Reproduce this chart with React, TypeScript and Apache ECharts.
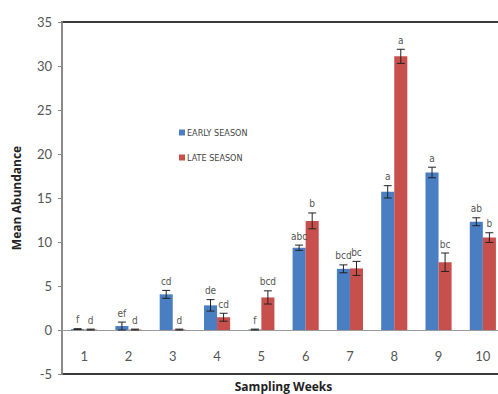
import React, { useEffect, useRef } from "react";
import * as echarts from "echarts";

const weeks = ["1", "2", "3", "4", "5", "6", "7", "8", "9", "10"];
const earlySeason = [0.1, 0.45, 4.05, 2.8, 0.05, 9.35, 6.95, 15.7, 17.9, 12.3];
const earlyErr = [0.05, 0.45, 0.45, 0.65, 0.05, 0.3, 0.45, 0.7, 0.6, 0.45];
const lateSeason = [0.05, 0.05, 0.05, 1.45, 3.7, 12.4, 7.0, 31.1, 7.7, 10.5];
const lateErr = [0.05, 0.05, 0.05, 0.45, 0.75, 0.9, 0.8, 0.8, 1.05, 0.55];
const earlyLetters = ["f", "ef", "cd", "de", "f", "abc", "bcd", "a", "a", "ab"];
const lateLetters = ["d", "d", "d", "cd", "bcd", "b", "bc", "a", "bc", "b"];

const BLUE = "#4A7EC2";
const RED = "#C8504C";
const GAP = 0.41;
const NARROW = "'Liberation Sans Narrow', 'DejaVu Sans Condensed', 'Liberation Sans', sans-serif";

function errSeries(vals: number[], errs: number[], letters: string[], side: number) {
  return {
    type: "custom",
    z: 5,
    silent: true,
    encode: { x: 0, y: 1 },
    data: vals.map((v, i) => [i, v, errs[i]]),
    renderItem: (params: any, api: any) => {
      const idx = api.value(0);
      const v = api.value(1);
      const e = api.value(2);
      const band = api.size([1, 0])[0];
      const bw = (band * (1 - GAP)) / 2;
      const p = api.coord([idx, v]);
      const x = p[0] + (side * bw) / 2;
      const top = api.coord([idx, v + e])[1];
      const bot = api.coord([idx, Math.max(v - e, 0)])[1];
      const cap = 4;
      const st = { stroke: "#222", lineWidth: 1 };
      return {
        type: "group",
        children: [
          { type: "line", shape: { x1: x, y1: top, x2: x, y2: bot }, style: st },
          { type: "line", shape: { x1: x - cap, y1: top, x2: x + cap, y2: top }, style: st },
          { type: "line", shape: { x1: x - cap, y1: bot, x2: x + cap, y2: bot }, style: st },
          {
            type: "text",
            style: {
              text: letters[params.dataIndex],
              x: x,
              y: top - 4,
              align: "center",
              verticalAlign: "bottom",
              fill: "#555",
              font: "10px " + NARROW,
            },
          },
        ],
      };
    },
  };
}

export default function App() {
  const ref = useRef<HTMLDivElement>(null);
  useEffect(() => {
    if (!ref.current) return;
    const chart = echarts.init(ref.current, null, { renderer: "svg" });
    chart.setOption({
      animation: false,
      backgroundColor: "#fff",
      grid: {
        left: 62,
        top: 22,
        bottom: 20,
        right: 1,
        outerBoundsMode: "none",
        show: true,
        borderColor: "#3a3a3a",
        borderWidth: 2,
        backgroundColor: "transparent",
      },
      legend: {
        orient: "vertical",
        left: 174,
        top: 123,
        itemWidth: 6,
        itemHeight: 6,
        itemGap: 16,
        icon: "rect",
        data: ["EARLY SEASON", "LATE SEASON"],
        textStyle: {
          fontFamily: NARROW,
          fontSize: 9,
          color: "#444",
          padding: [0, 0, 0, -3],
        },
      },
      xAxis: {
        type: "category",
        data: weeks,
        position: "bottom",
        offset: -44,
        axisLine: { onZero: false, lineStyle: { color: "#9a9a9a", width: 1 } },
        axisTick: { show: false },
        axisLabel: {
          margin: 19,
          fontSize: 13,
          color: "#555",
          fontFamily: "Lato, 'Open Sans', sans-serif",
        },
        name: "Sampling Weeks",
        nameLocation: "middle",
        nameGap: 50,
        nameTextStyle: {
          fontSize: 12,
          fontWeight: "bold",
          color: "#222",
          fontFamily: "'Open Sans', Lato, sans-serif",
        },
      },
      yAxis: {
        type: "value",
        min: -5,
        max: 35,
        interval: 5,
        splitLine: { show: false },
        axisLine: { show: true, lineStyle: { color: "#8a8a8a", width: 2 } },
        axisTick: { show: true, length: 4, lineStyle: { color: "#8a8a8a" } },
        axisLabel: {
          margin: 10,
          fontSize: 13,
          color: "#555",
          fontFamily: "Lato, 'Open Sans', sans-serif",
        },
        name: "Mean Abundance",
        nameLocation: "middle",
        nameGap: 40,
        nameRotate: 90,
        nameTextStyle: {
          fontSize: 12,
          fontWeight: "bold",
          color: "#222",
          fontFamily: "'Open Sans', Lato, sans-serif",
        },
      },
      series: [
        {
          name: "EARLY SEASON",
          type: "bar",
          data: earlySeason,
          barGap: "0%",
          barCategoryGap: "41%",
          itemStyle: { color: BLUE },
        },
        {
          name: "LATE SEASON",
          type: "bar",
          data: lateSeason,
          barGap: "0%",
          barCategoryGap: "41%",
          itemStyle: { color: RED },
        },
        errSeries(earlySeason, earlyErr, earlyLetters, -1),
        errSeries(lateSeason, lateErr, lateLetters, 1),
      ],
    });
    return () => chart.dispose();
  }, []);
  return (
    <div
      ref={ref}
      style={{ position: "fixed", left: 0, top: 0, width: 506, height: 394 }}
    />
  );
}
